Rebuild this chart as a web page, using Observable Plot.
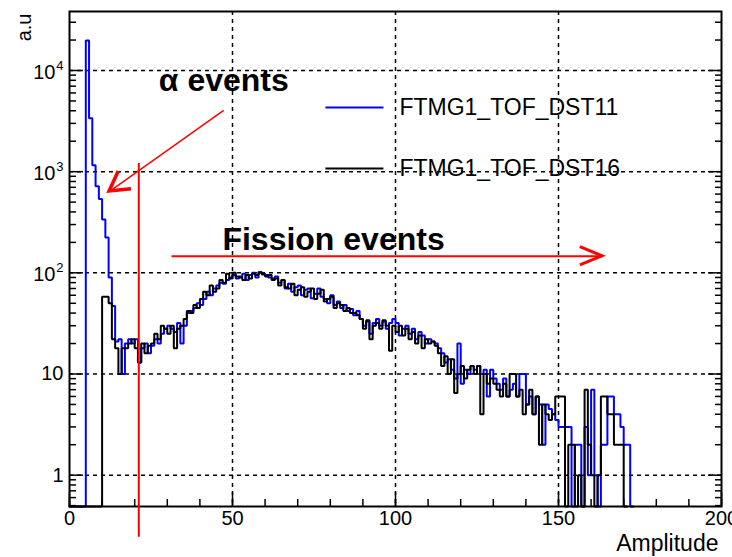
<!DOCTYPE html>
<html><head><meta charset="utf-8">
<script src="https://cdn.jsdelivr.net/npm/d3@7"></script>
<script src="https://cdn.jsdelivr.net/npm/@observablehq/plot@0.6"></script>
<style>html,body{margin:0;padding:0;background:#fff;}</style>
</head><body><div id="chart"></div>
<script>
// ---- data ----
const binStart = 0, binWidth = 1;
const countsDST11 = [
0,0,0,0,0,
19800,3370,1155,717,537,
336,223,90,47,21,
22,10,20,22,20,
22,13,18,20,16,
19,22,20,25,28,
30,28,26,32,20,
30,40,42,45,50,
48,55,65,60,70,
75,80,78,85,90,
95,88,92,98,85,
95,100,90,102,98,
95,90,88,92,80,
85,70,78,65,72,
75,60,68,70,56,
62,70,58,55,50,
60,48,52,45,48,
42,44,38,42,35,
30,33,25,32,35,
30,33,28,32,35,
32,24,28,30,25,
28,22,26,24,20,
22,21,20,18,16,
13,14,11,9,20,
8,11,10,12,11,
12,10,11,6,11,
9,8,7,9,6,
7,8,6,10,10,
5,6,4,6,5,
2,5,4.5,4,3.5,
3,3,3,3,0,
2,2,0,3,1,
7,1,0,2,2,
6,6,4,4,3,
2,2,0
];
const countsDST16 = [
0,0,0,0,0,
0,0,0,0,0,
58,58,50,22,18,
10,18,18,20,22,
18,13,20,16,19,
20,25,22,30,28,
25,30,18,28,30,
35,42,40,48,45,
55,65,60,75,65,
70,85,80,98,88,
100,92,90,85,95,
88,98,95,100,96,
92,95,85,88,75,
85,72,70,78,60,
68,72,58,65,70,
55,62,68,52,55,
58,45,50,48,42,
45,40,40,38,35,
28,34,22,30,32,
28,34,30,17,30,
26,30,24,28,22,
26,20,24,18,22,
20,21,19,16,12,
15,10,14,6.5,10,
12,9,11,12,10,
12,4,10,8,9,
8,7,6,8,6,
10,10,6,7,4,
5,7,4,6,2,
5,4,3.5,4,6,
6,6,0,2,2,
0,1,0,7,2,
1,0,1,6,6,
4,4,2,2,2,
0
];
const seriesNames = ["FTMG1_TOF_DST11", "FTMG1_TOF_DST16"];
const seriesColors = ["#0000ff", "#000000"];
const xTicks = [0, 50, 100, 150, 200];
const yTicks = [1, 10, 100, 1000, 10000];
const yTickBase = ["1", "10", "10", "10", "10"];
const yTickExp = ["", "", "2", "3", "4"];
const xLabel = "Amplitude";
const yLabel = "a.u";
const annotationTexts = ["α events", "Fission events"];

// ---- layout constants ----
const xDomain = [0, 200];
const yDomain = [0.49, 38300];
const red = "#ff0000";

function steps(counts) {
  const pts = counts.map((c, i) => ({x: binStart + i * binWidth, y: c}));
  const end = binStart + counts.length * binWidth;
  pts.push({x: end, y: counts[counts.length - 1]});
  pts.push({x: end, y: 0});
  return pts.map(p => ({x: p.x, y: p.y > 0 ? p.y : yDomain[0]}));
}

const xMinor = d3.range(0, 201, 10);
const yMinor = [];
for (let e = -1; e <= 4; e++) for (let k = 2; k <= 9; k++) {
  const v = k * Math.pow(10, e);
  if (v > yDomain[0] && v < yDomain[1]) yMinor.push(v);
}

const yLab = yTicks.map((v, i) => ({v, base: yTickBase[i], exp: yTickExp[i]}));
const legendRows = seriesNames.map((name, i) => ({name, color: seriesColors[i], y: [4310, 1077][i]}));
const legendX = {x1: 78.5, x2: 96.3, text: 101.2};
const annot = [
  {text: annotationTexts[0], x: 27.4, y: 7960},
  {text: annotationTexts[1], x: 46.9, y: 214}
];
const alphaArrow = {x1: 47.3, y1: 4030, x2: 12.3, y2: 638};
const fissionArrow = {x1: 31.3, x2: 163.5, y: 145.6};
const cutLine = {x: 21.26, y1: 1206, y2: 0.244};

const font = "'Liberation Sans', Arial, Helvetica, sans-serif";
const plot = Plot.plot({
  width: 732, height: 557,
  marginLeft: 69, marginRight: 11, marginTop: 11, marginBottom: 51,
  x: {domain: xDomain, label: null},
  y: {type: "log", domain: yDomain, label: null},
  style: {fontFamily: font, fontSize: "20px", color: "black", background: "white", overflow: "visible"},
  marks: [
    Plot.gridX([50, 100, 150], {stroke: "black", strokeOpacity: 1, strokeWidth: 1.5, strokeDasharray: "4,4"}),
    Plot.gridY(yTicks, {stroke: "black", strokeOpacity: 1, strokeWidth: 1.5, strokeDasharray: "4,4"}),
    Plot.line(steps(countsDST11), {x: "x", y: "y", curve: "step-after", stroke: seriesColors[0], strokeWidth: 2, strokeLinejoin: "miter"}),
    Plot.line(steps(countsDST16), {x: "x", y: "y", curve: "step-after", stroke: seriesColors[1], strokeWidth: 2, strokeLinejoin: "miter"}),
    Plot.frame({stroke: "black", strokeWidth: 2}),
    Plot.axisX(xMinor, {tickSize: -7, text: null, label: null, strokeWidth: 1.5}),
    Plot.axisX(xTicks, {tickSize: -14, text: null, label: null, strokeWidth: 1.5}),
    Plot.axisX(xTicks, {tickSize: 0, tickPadding: 4, fontSize: 20, label: null}),
    Plot.axisY(yMinor, {tickSize: -7, text: null, label: null, strokeWidth: 1.5}),
    Plot.axisY(yTicks, {tickSize: -14, text: null, label: null, strokeWidth: 1.5}),
    Plot.axisY(yMinor, {anchor: "right", tickSize: -7, text: null, label: null, strokeWidth: 1.5}),
    Plot.axisY(yTicks, {anchor: "right", tickSize: -14, text: null, label: null, strokeWidth: 1.5}),
    Plot.text(yLab.filter(d => !d.exp), {y: "v", text: "base", frameAnchor: "left", textAnchor: "end", dx: -6, fontSize: 20}),
    Plot.text(yLab.filter(d => d.exp), {y: "v", text: "base", frameAnchor: "left", textAnchor: "end", dx: -14, dy: 2, fontSize: 20}),
    Plot.text(yLab.filter(d => d.exp), {y: "v", text: "exp", frameAnchor: "left", textAnchor: "end", dx: -6, dy: -5, fontSize: 13}),
    Plot.text([xLabel], {text: d => d, frameAnchor: "bottom-right", textAnchor: "end", dx: -3, dy: 44, fontSize: 23}),
    Plot.text([yLabel], {text: d => d, frameAnchor: "top-left", textAnchor: "end", rotate: -90, dx: -53, dy: 2, fontSize: 20}),
    // legend
    Plot.link(legendRows, {x1: () => legendX.x1, x2: () => legendX.x2, y1: "y", y2: "y", stroke: "color", strokeWidth: 2}),
    Plot.text(legendRows, {x: () => legendX.text, y: "y", text: "name", textAnchor: "start", fontSize: 23}),
    // annotations
    Plot.ruleX([cutLine], {x: "x", y1: "y1", y2: "y2", stroke: red, strokeWidth: 2}),
    Plot.link([alphaArrow], {x1: "x1", y1: "y1", x2: "x2", y2: "y2", stroke: red, strokeWidth: 1.5}),
    Plot.link([fissionArrow], {x1: "x1", y1: "y", x2: "x2", y2: "y", stroke: red, strokeWidth: 2}),
    Plot.text(annot, {x: "x", y: "y", text: "text", textAnchor: "start", fontSize: 32, fontWeight: "bold"})
  ]
});

// arrowheads (chevrons) drawn using the plot's scales
const sx = plot.scale("x"), sy = plot.scale("y");
const svg = d3.select(plot);
function chevron(tipX, tipY, fromX, fromY, len, half, width) {
  const tx = sx.apply(tipX), ty = sy.apply(tipY);
  const fx = sx.apply(fromX), fy = sy.apply(fromY);
  const a = Math.atan2(fy - ty, fx - tx);
  const p1 = [tx + len * Math.cos(a + half), ty + len * Math.sin(a + half)];
  const p2 = [tx + len * Math.cos(a - half), ty + len * Math.sin(a - half)];
  svg.append("path")
    .attr("d", `M${p1[0]},${p1[1]}L${tx},${ty}L${p2[0]},${p2[1]}`)
    .attr("fill", "none").attr("stroke", red).attr("stroke-width", width)
    .attr("stroke-linejoin", "miter").attr("stroke-linecap", "butt");
}
chevron(alphaArrow.x2, alphaArrow.y2, alphaArrow.x1, alphaArrow.y1, 22, Math.PI / 6, 3.5);
chevron(fissionArrow.x2, fissionArrow.y, fissionArrow.x1, fissionArrow.y, 24, 0.39, 3);

document.getElementById("chart").appendChild(plot);
</script>
</body></html>
